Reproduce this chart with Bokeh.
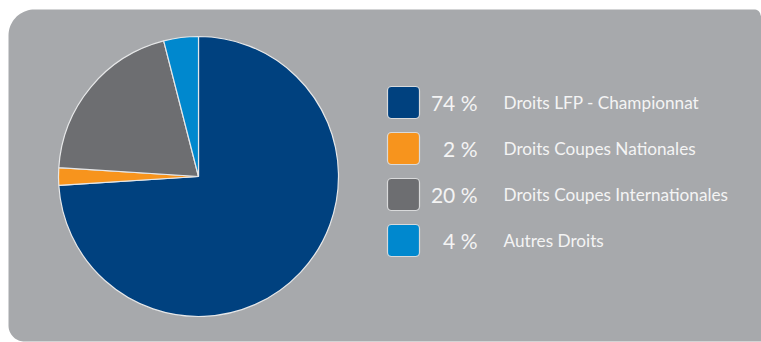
import numpy as np
from bokeh.plotting import figure
from bokeh.models import Range1d, ColumnDataSource
from bokeh.core.properties import value
from bokeh.embed import file_html
from bokeh.resources import INLINE

# ---- data ----
categories = ["Droits LFP - Championnat", "Droits Coupes Nationales",
              "Droits Coupes Internationales", "Autres Droits"]
shares = [74, 2, 20, 4]
pct_labels = ["74 %", "2 %", "20 %", "4 %"]
colors = ["#00417F", "#F7941D", "#6D6E71", "#0088CE"]

W, H = 761, 342
p = figure(width=W, height=H, output_backend="svg", toolbar_location=None,
           x_range=Range1d(0, W), y_range=Range1d(0, H), min_border=0)
p.axis.visible = False
p.grid.visible = False
p.outline_line_color = None
p.background_fill_color = "white"
p.border_fill_color = "white"

# ---- rounded background panel ----
def arc(cx, cy, r, a0, a1, n=20):
    t = np.linspace(a0, a1, n)
    return list(cx + r * np.cos(t)), list(cy + r * np.sin(t))

left, right, top, bottom = 8, 762, H - 9, H - 341
xs, ys = [], []
ax, ay = arc(left + 26, top - 26, 26, np.pi, np.pi / 2); xs += ax; ys += ay
ax, ay = arc(right - 8, top - 6, 6, np.pi / 2, 0); xs += ax; ys += ay
xs += [right, right]; ys += [top - 6, bottom]
ax, ay = arc(left + 16, bottom + 16, 16, 3 * np.pi / 2, np.pi); xs += ax; ys += ay
p.patch(xs, ys, fill_color="#A7A9AC", line_color=None)

# ---- pie ----
vals = np.array(shares, dtype=float)
frac = vals / vals.sum()
cum = np.concatenate([[0], np.cumsum(frac)])
start = np.pi / 2 - 2 * np.pi * cum[:-1]
end = np.pi / 2 - 2 * np.pi * cum[1:]
cx, cy, r = 198, H - 176, 140
src = ColumnDataSource(dict(start=start, end=end, color=colors,
                            x=[cx] * 4, y=[cy] * 4))
p.wedge(x="x", y="y", radius=r, start_angle="start", end_angle="end",
        direction="clock", fill_color="color", line_color="#E6E7E8",
        line_width=1.2, source=src)

# ---- legend ----
row_y = [H - (102 + 46 * i) for i in range(len(categories))]
lsrc = ColumnDataSource(dict(
    l=[387] * 4, r=[419] * 4, t=[y + 16 for y in row_y], b=[y - 16 for y in row_y],
    color=colors, y=row_y, pct=pct_labels, cat=categories,
    px=[477] * 4, lx=[503] * 4))
p.quad(left="l", right="r", top="t", bottom="b", fill_color="color",
       line_color="#D9DADB", line_width=1.2, border_radius=4, source=lsrc)
p.text(x="px", y="y", text="pct", text_align="right", text_baseline="middle",
       text_font=value("Lato"), text_font_size="21px", text_color="#F4F4F4",
       source=lsrc)
p.text(x="lx", y="y", text="cat", text_align="left", text_baseline="middle",
       text_font=value("Lato"), text_font_size="17.2px", text_color="#F4F4F4",
       source=lsrc)

open("out.html", "w").write(file_html(p, INLINE))
